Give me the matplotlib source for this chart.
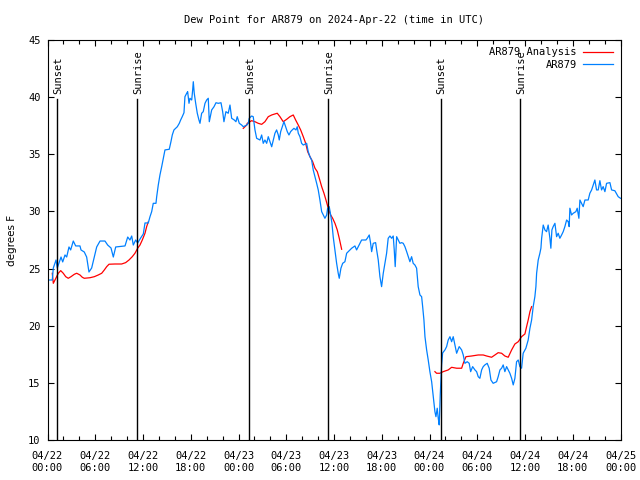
import matplotlib
matplotlib.use("Agg")
import matplotlib.pyplot as plt
from matplotlib.ticker import MultipleLocator
import numpy as np

# hours since 2024-04-22 00:00 UTC
obs_hours = [
    0.10, 0.60, 0.73, 0.94, 1.07, 1.23, 1.44, 1.70, 1.91, 2.20, 2.41, 2.70, 2.91, 3.24, 3.54,
    4.08, 4.21, 4.62, 4.92, 5.21, 5.55, 5.88, 6.18, 6.60, 7.22, 7.56, 7.98, 8.27, 8.57, 9.74,
    10.08, 10.36, 10.58, 10.78, 11.08, 11.33, 11.71, 12.04, 12.25, 12.66, 12.88, 13.09, 13.29,
    13.63, 13.72, 13.92, 14.13, 14.35, 14.55, 14.76, 15.30, 15.51, 15.68, 15.89, 16.31, 16.56,
    16.73, 16.93, 17.15, 17.27, 17.49, 17.61, 17.78, 17.90, 18.12, 18.24, 18.32, 18.44, 18.62,
    18.82, 19.03, 19.16, 19.37, 19.57, 19.79, 20.00, 20.20, 20.33, 20.63, 20.92, 21.17, 21.46,
    21.80, 22.01, 22.17, 22.42, 22.71, 22.93, 23.14, 23.47, 23.68, 23.84, 24.10, 24.40, 24.60,
    25.03, 25.23, 25.35, 25.65, 25.85, 26.07, 26.28, 26.70, 26.91, 27.11, 27.32, 27.54, 27.74,
    27.95, 28.17, 28.37, 28.58, 28.79, 29.00, 29.12, 29.30, 29.50, 29.71, 29.92, 30.13, 30.34,
    30.55, 30.75, 30.97, 31.22, 31.38, 31.51, 31.72, 31.93, 32.14, 32.56, 32.76, 32.98, 33.19,
    33.39, 33.61, 33.82, 34.02, 34.23, 34.45, 34.65, 34.86, 35.08, 35.20, 35.40, 35.58, 35.74,
    35.90, 36.12, 36.33, 36.53, 36.66, 36.87, 37.09, 37.37, 37.59, 37.79, 38.22, 38.63, 38.84,
    39.26, 39.47, 40.01, 40.18, 40.43, 40.60, 40.73, 40.93, 41.23, 41.36, 41.56, 41.77, 41.98,
    42.19, 42.40, 42.61, 42.81, 43.03, 43.24, 43.44, 43.57, 43.69, 43.87, 44.07, 44.28, 44.50,
    44.70, 44.91, 45.13, 45.33, 45.54, 45.75, 45.95, 46.17, 46.38, 46.58, 46.80, 47.01, 47.14,
    47.30, 47.43, 47.64, 47.84, 48.05, 48.27, 48.47, 48.68, 48.81, 48.97, 49.10, 49.22, 49.35,
    49.52, 49.65, 49.94, 50.15, 50.35, 50.57, 50.78, 50.98, 51.19, 51.41, 51.73, 52.04, 52.24,
    52.45, 52.74, 52.99, 53.17, 53.42, 53.71, 53.92, 54.12, 54.33, 54.55, 54.75, 54.96, 55.25,
    55.50, 55.72, 56.00, 56.43, 56.63, 56.85, 57.06, 57.26, 57.47, 57.69, 58.10, 58.32, 58.52,
    58.73, 58.94, 59.15, 59.36, 59.57, 59.77, 60.11, 60.40, 60.62, 60.83, 61.03, 61.24, 61.37,
    61.46, 61.66, 61.87, 62.00, 62.09, 62.29, 62.50, 62.71, 62.91, 63.13, 63.25, 63.38, 63.54,
    63.76, 63.97, 64.17, 64.38, 64.60, 64.80, 65.01, 65.23, 65.43, 65.55, 65.64, 65.85, 66.06,
    66.39, 66.56, 66.77, 66.90, 67.11, 67.31, 67.53, 67.94, 68.15, 68.37, 68.57, 68.78, 68.99,
    69.20, 69.41, 69.62, 69.82, 70.04, 70.25, 70.67, 70.88, 71.29, 71.71, 72.00,
]
obs_dewpt = [
    24.00, 24.00, 25.05, 25.49, 25.75, 25.05, 25.49, 26.01, 25.58, 26.19, 26.01, 26.89, 26.63, 27.41, 26.98,
    26.98, 26.63, 26.45, 26.01, 24.70, 25.05, 26.01, 26.89, 27.41, 27.41, 27.06, 26.80, 26.01, 26.89, 26.98,
    27.76, 27.50, 27.85, 27.06, 27.50, 27.24, 27.68, 28.03, 28.99, 28.99, 29.54, 29.98, 30.71,
    30.71, 31.29, 32.31, 33.19, 33.92, 34.65, 35.38, 35.44, 36.10, 36.69, 37.13, 37.41, 37.71,
    38.00, 38.29, 38.64, 40.04, 40.34, 40.48, 39.46, 39.90, 39.75, 40.63, 41.35, 40.34, 39.46,
    38.59, 38.00, 37.71, 38.59, 38.73, 39.46, 39.75, 39.90, 37.85, 38.88, 39.16, 39.51, 39.46,
    39.51, 38.73, 37.85, 38.73, 38.59, 39.31, 38.15, 38.00, 37.85, 38.29, 37.71, 37.56, 37.41,
    37.56, 37.71, 38.15, 38.35, 38.29, 37.13, 36.40, 36.25, 36.69, 35.96, 36.25, 35.96, 36.54,
    36.10, 35.66, 36.25, 36.84, 37.13, 36.69, 36.25, 36.98, 37.41, 37.85, 37.41, 36.98, 36.69,
    36.98, 37.13, 37.27, 37.13, 37.41, 36.84, 36.54, 35.96, 35.81, 35.96, 35.23, 34.79, 34.50,
    33.63, 33.04, 32.46, 31.88, 31.00, 29.98, 29.69, 29.40, 29.69, 30.28, 30.42, 29.69, 28.96,
    27.79, 26.63, 25.46, 24.59, 24.15, 25.03, 25.46, 25.60, 26.34, 26.48, 26.78, 26.98, 26.63,
    27.21, 27.50, 27.50, 27.65, 27.94, 27.21, 26.48, 27.21, 27.27, 26.63, 25.75, 24.29, 23.42,
    24.59, 25.46, 26.34, 27.65, 27.85, 27.65, 27.85, 26.63, 25.17, 27.79, 27.50, 27.21, 27.27,
    27.21, 26.92, 26.48, 26.04, 25.60, 26.04, 25.46, 25.31, 25.03, 23.42, 22.69, 22.54, 21.67,
    20.50, 19.04, 17.88, 17.00, 15.98, 15.10, 13.79, 12.48, 12.04, 12.78, 11.90, 11.32, 13.94,
    16.57, 17.62, 17.88, 18.17, 18.75, 19.04, 18.60, 19.04, 18.32, 17.59, 18.17, 17.88, 17.44,
    16.71, 16.85, 16.71, 15.98, 16.42, 16.13, 15.98, 15.54, 15.40, 16.13, 16.42, 16.57, 16.71,
    16.28, 15.25, 14.96, 15.10, 15.54, 16.13, 16.28, 16.57, 15.98, 16.42, 15.84, 15.40, 14.82,
    15.40, 16.85, 17.00, 16.42, 16.28, 17.59, 18.03, 18.75, 19.78, 20.50, 21.67, 22.54, 23.42,
    24.59, 25.75, 26.34, 26.78, 27.65, 28.81, 28.38, 28.23, 28.81, 27.65, 26.78, 28.38, 28.67,
    28.96, 27.79, 28.09, 27.65, 27.94, 28.23, 28.67, 29.25, 29.10, 28.67, 30.28, 29.69, 29.84,
    29.98, 30.28, 29.40, 31.00, 30.71, 30.42, 31.00, 31.00, 31.59, 31.88, 32.31, 32.75, 31.88,
    31.88, 32.69, 31.88, 32.17, 31.73, 32.46, 32.52, 31.88, 31.81, 31.29, 31.15,
]

# analysis runs (three 12-hour pieces)
ana1_hours = [0.60, 0.73, 0.94, 1.36, 1.66, 1.98, 2.29, 2.61, 2.95, 3.37, 3.67, 4.08, 4.37, 4.62,
              5.34, 5.88, 6.38, 6.81, 7.14, 7.44, 7.73, 8.48, 9.32, 9.82, 10.24, 10.65, 10.99,
              11.33, 11.62, 11.91, 12.25, 12.46, 12.66]
ana1_dewpt = [24.59, 23.71, 24.00, 24.59, 24.82, 24.59, 24.29, 24.15, 24.29, 24.50, 24.59, 24.44,
              24.24, 24.15, 24.20, 24.29, 24.44, 24.59, 24.88, 25.17, 25.38, 25.40, 25.40, 25.52,
              25.75, 26.04, 26.34, 26.78, 27.06, 27.50, 28.09, 28.67, 29.08]
ana2_hours = [24.60, 25.03, 25.10, 25.65, 26.07, 26.48, 26.91, 27.32, 27.74, 28.17, 28.58, 28.87,
              29.21, 29.62, 30.05, 30.46, 30.88, 31.18, 31.51, 31.81, 32.14, 32.44, 32.69, 32.98,
              33.32, 33.61, 33.90, 34.15, 34.45, 34.74, 34.99, 35.28, 35.58, 35.83, 36.12, 36.41,
              36.66, 36.96]
ana2_dewpt = [37.27, 37.56, 37.71, 37.94, 37.85, 37.71, 37.62, 37.85, 38.29, 38.44, 38.53, 38.59,
              38.29, 37.85, 38.06, 38.29, 38.44, 38.00, 37.56, 37.13, 36.54, 35.96, 35.23, 34.79,
              34.35, 33.78, 33.48, 32.90, 32.17, 31.59, 31.00, 30.28, 29.69, 29.40, 28.96, 28.38,
              27.65, 26.69]
ana3_hours = [48.68, 48.89, 49.31, 49.72, 50.35, 50.78, 51.41, 52.04, 52.24, 52.58, 53.29, 54.12,
              54.75, 55.18, 55.80, 56.22, 56.63, 57.06, 57.47, 57.89, 58.32, 58.73, 59.15, 59.57,
              59.99, 60.20, 60.40, 60.62, 60.83]
ana3_dewpt = [15.98, 15.84, 15.84, 15.98, 16.13, 16.36, 16.28, 16.28, 16.71, 17.29, 17.35, 17.44,
              17.44, 17.35, 17.24, 17.44, 17.64, 17.59, 17.35, 17.24, 17.88, 18.40, 18.60, 19.04,
              19.28, 19.92, 20.50, 21.23, 21.67]

sun_hours = [1.23, 11.28, 25.35, 35.28, 49.43, 59.40]
sun_names = ["Sunset", "Sunrise", "Sunset", "Sunrise", "Sunset", "Sunrise"]

tick_labels = ["04/22\n00:00", "04/22\n06:00", "04/22\n12:00", "04/22\n18:00",
               "04/23\n00:00", "04/23\n06:00", "04/23\n12:00", "04/23\n18:00",
               "04/24\n00:00", "04/24\n06:00", "04/24\n12:00", "04/24\n18:00",
               "04/25\n00:00"]

mono = "DejaVu Sans Mono"
plt.rcParams["font.family"] = mono
plt.rcParams["font.size"] = 7.5

fig = plt.figure(figsize=(6.4, 4.8), dpi=100)
ax = fig.add_axes([47.5 / 640, 40 / 480, 573 / 640, 400 / 480])

red = "#ff0000"
blue = "#0080ff"

ax.plot(ana1_hours, ana1_dewpt, color=red, lw=0.9, label="AR879 Analysis")
ax.plot(ana2_hours, ana2_dewpt, color=red, lw=0.9)
ax.plot(ana3_hours, ana3_dewpt, color=red, lw=0.9)
ax.plot(obs_hours, obs_dewpt, color=blue, lw=0.9, label="AR879")

for h, name in zip(sun_hours, sun_names):
    ax.plot([h, h], [10, 39.8], color="black", lw=1.0)
    ax.text(h + 0.1, 40.3, name, rotation=90, ha="center", va="bottom", fontsize=7.5)

ax.set_xlim(0, 72)
ax.set_ylim(10, 45)
ax.set_xticks(np.arange(0, 73, 6))
ax.set_xticklabels(tick_labels)
ax.xaxis.set_minor_locator(MultipleLocator(2))
ax.set_yticks(np.arange(10, 46, 5))
ax.tick_params(which="both", direction="in", top=True, right=True, width=0.8)
ax.tick_params(which="major", length=4)
ax.tick_params(axis="x", which="major", pad=8)
ax.tick_params(axis="y", which="major", pad=5)
ax.tick_params(which="minor", length=3)
for s in ax.spines.values():
    s.set_linewidth(0.8)

ax.set_ylabel("degrees F", family="DejaVu Sans", fontsize=7.5, labelpad=8)
ax.set_title("Dew Point for AR879 on 2024-Apr-22 (time in UTC)", fontsize=7.5, pad=12)

leg = ax.legend(loc="upper right", frameon=False, markerfirst=False, handlelength=2.9,
                borderaxespad=0.3, labelspacing=0.25, handletextpad=0.6)

fig.savefig("out.png", dpi=100)
